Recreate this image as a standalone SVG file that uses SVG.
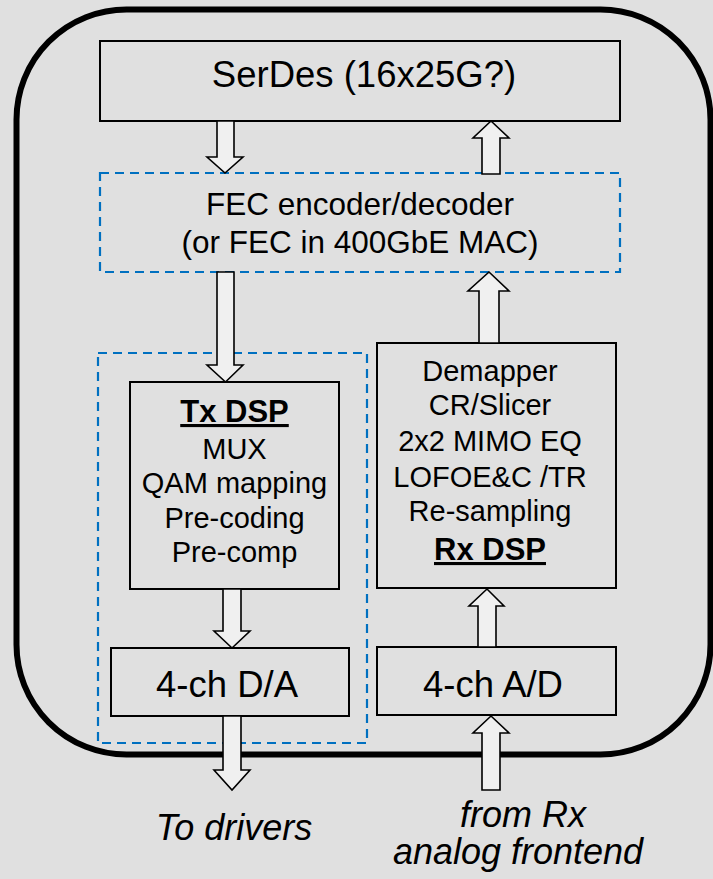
<svg xmlns="http://www.w3.org/2000/svg" width="713" height="879" viewBox="0 0 713 879">
<style>
.box{fill:none;stroke:#000;stroke-width:2}
.dash{fill:none;stroke:#0070c0;stroke-width:2.2;stroke-dasharray:9 6}
.arr{fill:#f0f0f0;stroke:#000;stroke-width:1.6;stroke-linejoin:miter}
text{font-family:"Liberation Sans",Arial,sans-serif;fill:#000;text-anchor:middle}
.big{font-size:36.5px}
.mid{font-size:31.5px}
.dsp{font-size:29px}
.ttl{font-size:31px;font-weight:bold;text-decoration:underline}
.lbl{font-size:36px;font-style:italic}
</style>
<rect x="0" y="0" width="713" height="879" fill="#e0e0e0"/>
<rect id="frame" x="16.5" y="9.5" width="694" height="745" rx="110" ry="110" fill="none" stroke="#000" stroke-width="6"/>
<g id="serdes">
<rect class="box" x="100" y="41" width="520" height="80"/>
<text class="big" x="364" y="87">SerDes (16x25G?)</text>
</g>
<g id="fec">
<rect class="dash" x="100" y="173" width="520" height="99"/>
<text class="mid" x="360" y="215">FEC encoder/decoder</text>
<text class="mid" x="360" y="253">(or FEC in 400GbE MAC)</text>
</g>
<g id="tx-group">
<rect class="dash" x="98" y="353" width="269" height="390"/>
</g>
<g id="txdsp">
<rect class="box" x="130" y="382" width="209" height="207"/>
<text class="ttl" x="234.5" y="422">Tx DSP</text>
<text class="dsp" x="234.5" y="459">MUX</text>
<text class="dsp" x="234.5" y="493">QAM mapping</text>
<text class="dsp" x="234.5" y="528">Pre-coding</text>
<text class="dsp" x="234.5" y="562">Pre-comp</text>
</g>
<g id="rxdsp">
<rect class="box" x="377" y="343" width="239" height="245"/>
<text class="dsp" x="490" y="381">Demapper</text>
<text class="dsp" x="490" y="415">CR/Slicer</text>
<text class="dsp" x="490" y="451">2x2 MIMO EQ</text>
<text class="dsp" x="490" y="487">LOFOE&amp;C /TR</text>
<text class="dsp" x="490" y="521">Re-sampling</text>
<text class="ttl" x="490" y="560">Rx DSP</text>
</g>
<g id="da">
<rect class="box" x="111" y="648" width="238" height="68"/>
<text class="big" x="227" y="697">4-ch D/A</text>
</g>
<g id="ad">
<rect class="box" x="377" y="647" width="239" height="68"/>
<text class="big" x="493" y="697">4-ch A/D</text>
</g>
<g id="labels">
<text class="lbl" x="234" y="840">To drivers</text>
<text class="lbl" x="523" y="827">from Rx</text>
<text class="lbl" x="518" y="864">analog frontend</text>
</g>
<g id="connectors">
<polygon class="arr" points="217,121 234,121 234,157 243,157 225,173 207,157 217,157"/>
<polygon class="arr" points="482,174 500,174 500,138 509,138 491,121 473,138 482,138"/>
<polygon class="arr" points="217,272 234,272 234,365 243,365 225.5,382 207,365 217,365"/>
<polygon class="arr" points="479,343 499,343 499,291 509,291 489,272 468,291 479,291"/>
<polygon class="arr" points="223,589 241,589 241,631 250,631 232,648 214,631 223,631"/>
<polygon class="arr" points="223,716 241,716 241,770 250,770 232,790 214,770 223,770"/>
<polygon class="arr" points="482,790 500,790 500,733 509,733 491,716 473,733 482,733"/>
<polygon class="arr" points="478,647 496,647 496,606 504,606 487,589 469,606 478,606"/>
</g>
</svg>
